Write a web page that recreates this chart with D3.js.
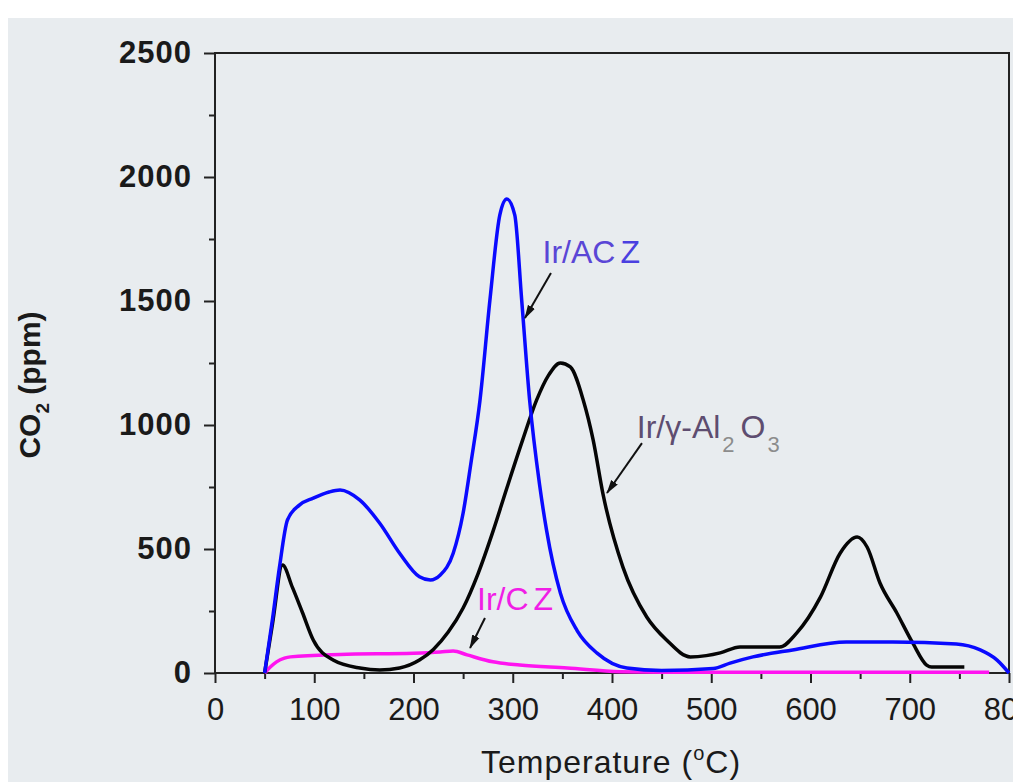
<!DOCTYPE html>
<html>
<head>
<meta charset="utf-8">
<script src="https://cdn.jsdelivr.net/npm/d3@7"></script>
<style>
    body { margin: 0; background: #ffffff; }
    svg { display: block; }
</style>
</head>
<body>
<div id="chart"></div>
<script>
// data (temperature in °C, CO2 in ppm)
const aczTemp = [50, 58, 65, 73, 85, 99, 115, 126, 146, 166, 186, 206, 217, 227, 240, 250, 258, 267, 277, 287, 294, 302, 309, 317, 327, 334, 348, 365, 385, 415, 450, 502, 519, 542, 582, 636, 683, 747, 771, 788, 800];
const aczCO2 = [0, 220, 428, 617, 677, 705, 730, 738, 697, 604, 483, 388, 375, 395, 483, 645, 850, 1100, 1504, 1847, 1911, 1847, 1504, 1100, 760, 577, 322, 170, 80, 20, 10, 18, 40, 65, 93, 125, 125, 117, 93, 52, 0];

const alTemp = [50, 58, 68, 78, 88, 99, 119, 146, 166, 186, 206, 220, 235, 250, 265, 280, 294, 310, 324, 336, 348, 358, 371, 381, 391, 411, 435, 455, 479, 495, 509, 529, 569, 586, 610, 630, 647, 657, 670, 687, 703, 717, 722, 755];
const alCO2 = [0, 200, 435, 345, 245, 133, 52, 20, 12, 20, 52, 95, 165, 262, 400, 570, 745, 940, 1100, 1200, 1250, 1234, 1101, 940, 720, 427, 226, 133, 65, 70, 81, 105, 105, 161, 306, 484, 548, 508, 363, 242, 121, 32, 24, 24];

const czTemp = [50, 56, 62, 70, 76, 126, 200, 227, 240, 254, 280, 307, 355, 408, 450, 780];
const czCO2 = [0, 25, 45, 60, 65, 75, 80, 85, 89, 73, 45, 32, 20, 5, 3, 3];

const xTicks = [0, 100, 200, 300, 400, 500, 600, 700, 800];
const xMinorTicks = [50, 150, 250, 350, 450, 550, 650, 750];
const yTicks = [0, 500, 1000, 1500, 2000, 2500];
const yMinorTicks = [250, 750, 1250, 1750, 2250];

// annotation labels + arrows, in data units
const labels = [
    { parts: [{ t: "Ir/AC", c: "#5a46d6" }, { t: "Z", c: "#4a40e0", gap: 5 }], at: [330, 1653] },
    { parts: [{ t: "Ir/γ-Al", c: "#5e4d70" }, { t: "2", c: "#8c8c8c", sub: true }, { t: "O", c: "#5e4d70" }, { t: "3", c: "#8c8c8c", sub: true }], at: [425, 948] },
    { parts: [{ t: "Ir/C", c: "#f01ee6" }, { t: "Z", c: "#f01ee6", gap: 5 }], at: [264, 254] }
];
const arrows = [
    { from: [338.5, 1613], to: [312.3, 1431] },
    { from: [430.2, 927], to: [395, 726] },
    { from: [272, 222], to: [257, 101] }
];

const width = 1013, height = 782;
const plot = { left: 215, right: 1009, top: 53, bottom: 673 };

let svg = d3.select("#chart")
    .append("svg")
    .attr("width", width)
    .attr("height", height);

// grey panel
svg.append("rect")
    .attr("x", 8)
    .attr("y", 18)
    .attr("width", width - 8)
    .attr("height", height - 18)
    .attr("fill", "#e8ecef");

let x = d3.scaleLinear().domain([0, 800]).range([plot.left, plot.right]);
let y = d3.scaleLinear().domain([0, 2500]).range([plot.bottom, plot.top]);

// x axis
let xAxis = svg.append("g")
    .attr("transform", `translate(0,${plot.bottom})`)
    .call(d3.axisBottom(x).tickValues(xTicks).tickSize(10).tickSizeOuter(0).tickPadding(15).tickFormat(d3.format("d")));
xAxis.select(".domain").remove();
xAxis.selectAll("line").attr("stroke", "#222").attr("stroke-width", 2);
xAxis.selectAll("text")
    .attr("font-family", "'Liberation Sans', Arial, sans-serif")
    .attr("font-size", 31)
    .attr("fill", "#1a1a1a");

let xMinor = svg.append("g")
    .attr("transform", `translate(0,${plot.bottom})`)
    .call(d3.axisBottom(x).tickValues(xMinorTicks).tickSize(6).tickFormat(""));
xMinor.select(".domain").remove();
xMinor.selectAll("line").attr("stroke", "#222").attr("stroke-width", 2);

// y axis
let yAxis = svg.append("g")
    .attr("transform", `translate(${plot.left},0)`)
    .call(d3.axisLeft(y).tickValues(yTicks).tickSize(11).tickSizeOuter(0).tickPadding(12).tickFormat(d3.format("d")));
yAxis.select(".domain").remove();
yAxis.selectAll("line").attr("stroke", "#222").attr("stroke-width", 2);
yAxis.selectAll("text")
    .attr("font-family", "'Liberation Sans', Arial, sans-serif")
    .attr("font-size", 31)
    .attr("font-weight", "bold")
    .attr("letter-spacing", 1)
    .attr("fill", "#1a1a1a");

let yMinor = svg.append("g")
    .attr("transform", `translate(${plot.left},0)`)
    .call(d3.axisLeft(y).tickValues(yMinorTicks).tickSize(6).tickFormat(""));
yMinor.select(".domain").remove();
yMinor.selectAll("line").attr("stroke", "#222").attr("stroke-width", 2);

// frame
svg.append("rect")
    .attr("x", plot.left)
    .attr("y", plot.top)
    .attr("width", plot.right - plot.left)
    .attr("height", plot.bottom - plot.top)
    .attr("fill", "none")
    .attr("stroke", "#222")
    .attr("stroke-width", 2);

// series
let line = d3.line()
    .x(d => x(d[0]))
    .y(d => y(d[1]))
    .curve(d3.curveMonotoneX);

let series = [
    { temp: czTemp, co2: czCO2, color: "#ff14f0" },
    { temp: alTemp, co2: alCO2, color: "#050505" },
    { temp: aczTemp, co2: aczCO2, color: "#0a0aff" }
];

svg.append("g")
    .selectAll("path")
    .data(series)
    .enter()
    .append("path")
    .attr("d", s => line(d3.zip(s.temp, s.co2)))
    .attr("fill", "none")
    .attr("stroke", s => s.color)
    .attr("stroke-width", 3.5)
    .attr("stroke-linejoin", "round");

// arrows
svg.append("defs")
    .append("marker")
    .attr("id", "head")
    .attr("viewBox", "0 -5 14 10")
    .attr("refX", 13)
    .attr("refY", 0)
    .attr("markerUnits", "userSpaceOnUse")
    .attr("markerWidth", 14)
    .attr("markerHeight", 10)
    .attr("orient", "auto")
    .append("path")
    .attr("d", "M0,-4L14,0L0,4Z")
    .attr("fill", "#111");

svg.append("g")
    .selectAll("line")
    .data(arrows)
    .enter()
    .append("line")
    .attr("x1", d => x(d.from[0]))
    .attr("y1", d => y(d.from[1]))
    .attr("x2", d => x(d.to[0]))
    .attr("y2", d => y(d.to[1]))
    .attr("stroke", "#111")
    .attr("stroke-width", 2)
    .attr("marker-end", "url(#head)");

// labels
labels.forEach(l => {
    let txt = svg.append("text")
        .attr("x", x(l.at[0]))
        .attr("y", y(l.at[1]))
        .attr("font-family", "'Liberation Sans', Arial, sans-serif")
        .attr("font-size", 32);
    l.parts.forEach((p, i) => {
        let ts = txt.append("tspan")
            .attr("fill", p.c)
            .text(p.t);
        let prev = l.parts[i - 1];
        if (p.sub) {
            ts.attr("font-size", 22).attr("dy", 14).attr("dx", 2);
        } else if (prev && prev.sub) {
            // back up to the baseline after a subscript
            ts.attr("dy", -14).attr("dx", 6);
        } else if (p.gap) {
            ts.attr("dx", p.gap);
        }
    });
});

// axis titles
let xTitle = svg.append("text")
    .attr("x", 611)
    .attr("y", 773)
    .attr("text-anchor", "middle")
    .attr("font-family", "'Liberation Sans', Arial, sans-serif")
    .attr("font-size", 32)
    .attr("letter-spacing", 1)
    .attr("fill", "#1a1a1a");
xTitle.append("tspan").text("Temperature (");
xTitle.append("tspan").attr("font-size", 20).attr("dy", -13).text("o");
xTitle.append("tspan").attr("dy", 13).text("C)");

let yTitle = svg.append("text")
    .attr("transform", "translate(40,385) rotate(-90)")
    .attr("text-anchor", "middle")
    .attr("font-family", "'Liberation Sans', Arial, sans-serif")
    .attr("font-size", 30)
    .attr("font-weight", "bold")
    .attr("fill", "#1a1a1a");
yTitle.append("tspan").text("CO");
yTitle.append("tspan").attr("font-size", 19).attr("dy", 9).text("2");
yTitle.append("tspan").attr("dy", -9).text(" (ppm)");
</script>
</body>
</html>
